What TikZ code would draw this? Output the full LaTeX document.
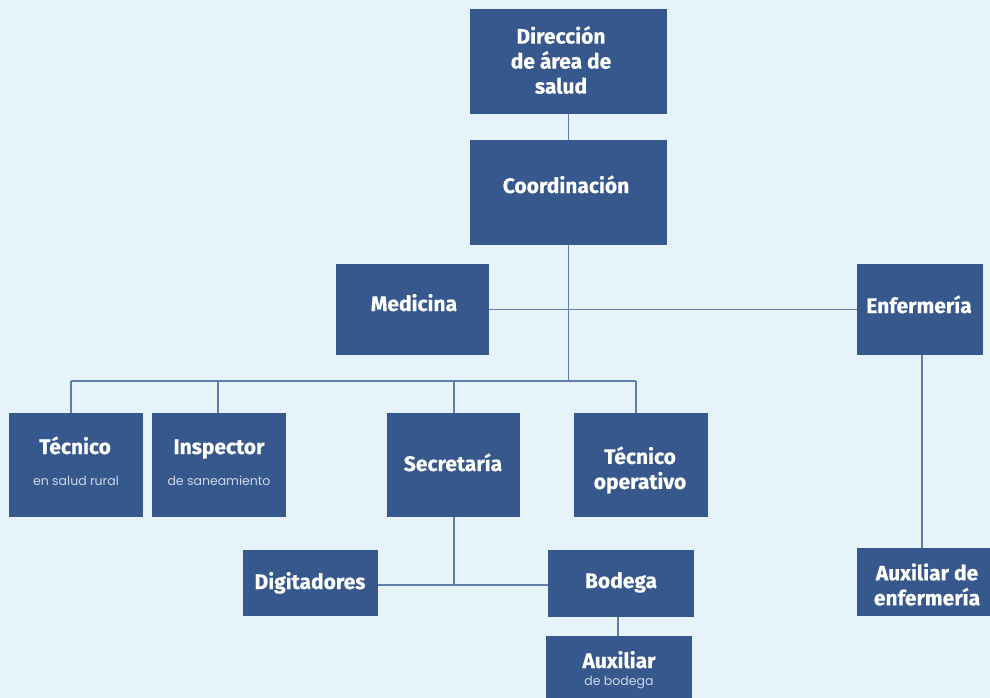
\documentclass[tikz,border=0pt]{standalone}
\usepackage{fontspec}
\setmainfont{Fira Sans}[BoldFeatures={FakeBold=0.4}]
\newfontfamily\subfont{Poppins}
\definecolor{bg}{HTML}{E6F3FA}
\definecolor{boxc}{HTML}{36588C}
\definecolor{linec}{HTML}{5E7FAE}
\definecolor{subc}{HTML}{CCD8EA}
\tikzset{
  orgbox/.style={draw=none, fill=boxc, inner sep=0pt},
  title/.style={text=white, font=\bfseries\fontsize{21}{25}\selectfont, align=center, inner sep=0pt},
  title1/.style={title, text height=17, text depth=3},
  subtitle/.style={text=subc, font=\subfont\fontsize{12.5}{14}\selectfont, align=center, inner sep=0pt, text height=9, text depth=3},
  conn/.style={draw=linec, line width=1.3pt}
}
\begin{document}
\begin{tikzpicture}[x=1pt,y=-1pt]
\fill[bg] (0,0) rectangle (990,698);
\useasboundingbox (0,0) rectangle (990,698);
\begin{scope}
\clip (0,0) rectangle (990,698);
% boxes
\node[orgbox, minimum width=197, minimum height=105] (dir) at (568.5,61.5) {};
\node[orgbox, minimum width=197, minimum height=105] (coord) at (568.5,192.5) {};
\node[orgbox, minimum width=153, minimum height=91] (med) at (412.5,309.5) {};
\node[orgbox, minimum width=126, minimum height=91] (enf) at (920,309.5) {};
\node[orgbox, minimum width=134, minimum height=104] (tec) at (76,465) {};
\node[orgbox, minimum width=134, minimum height=104] (insp) at (219,465) {};
\node[orgbox, minimum width=133, minimum height=104] (sec) at (453.5,465) {};
\node[orgbox, minimum width=134, minimum height=104] (tecop) at (641,465) {};
\node[orgbox, minimum width=135, minimum height=66] (dig) at (310.5,583) {};
\node[orgbox, minimum width=146, minimum height=67] (bod) at (621,583.5) {};
\node[orgbox, minimum width=146, minimum height=64] (auxb) at (619,668) {};
\node[orgbox, minimum width=135, minimum height=68] (auxe) at (924.5,582) {};
\end{scope}
% texts
\node[title] (tdir) at (561,60) {Dirección\\de área de\\salud};
\node[title1] (tcoord) at (566,186) {Coordinación};
\node[title1] (tmed) at (414,304) {Medicina};
\node[title1] (tenf) at (919,306) {Enfermería};
\node[title1] (ttec) at (75,447) {Técnico};
\node[subtitle] (stec) at (76,482) {en salud rural};
\node[title1] (tinsp) at (219,447) {Inspector};
\node[subtitle] (sinsp) at (219,482) {de saneamiento};
\node[title1] (tsec) at (453,464) {Secretaría};
\node[title] (ttecop) at (640,470) {Técnico\\operativo};
\node[title1] (tdig) at (310,582) {Digitadores};
\node[title1] (tbod) at (621,581) {Bodega};
\node[title1] (tauxb) at (619,661) {Auxiliar};
\node[subtitle] (sauxb) at (619,682) {de bodega};
\node[title] (tauxe) at (927,584.5) {Auxiliar de\\enfermería};
% connectors
\coordinate (bl) at (71,381);
\coordinate (bi) at (218,381);
\coordinate (bs) at (454,381);
\coordinate (br) at (636,381);
\coordinate (sj) at (454,585);
\draw[conn] (dir.south) -- (coord.north);
\draw[conn] (coord.south) -- (coord.south |- bl);
\draw[conn] (med.east) -- (enf.west);
\draw[conn] (bl) -- (br);
\draw[conn] (bl) -- (bl |- tec.north);
\draw[conn] (bi) -- (bi |- insp.north);
\draw[conn] (bs) -- (bs |- sec.north);
\draw[conn] (br) -- (br |- tecop.north);
\draw[conn] (sj |- sec.south) -- (sj);
\draw[conn] (dig.east |- sj) -- (bod.west |- sj);
\draw[conn] (auxb.north -| 618,0) -- (bod.south -| 618,0);
\draw[conn] (enf.south -| 922,0) -- (auxe.north -| 922,0);
\end{tikzpicture}
\end{document}
